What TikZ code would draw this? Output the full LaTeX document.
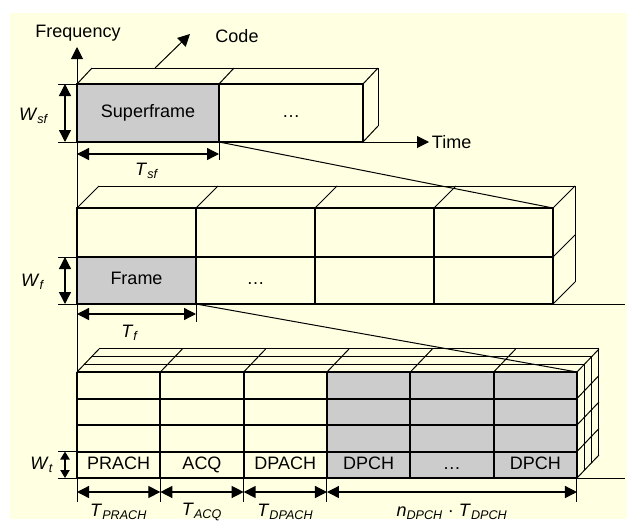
\documentclass[tikz,border=0pt]{standalone}
\usepackage{fontspec}
\setmainfont{Liberation Sans}
\usetikzlibrary{calc,arrows.meta}
\definecolor{bgyellow}{RGB}{255,255,225}
\definecolor{cellgray}{RGB}{204,204,204}
\newcommand{\lbl}[2]{\textit{#1}\textsubscript{\textit{#2}}}

\begin{document}
\begin{tikzpicture}[x=0.75pt,y=-0.75pt,
    font=\fontsize{13.5}{16}\selectfont,
    >={Triangle[length=9pt,width=9pt]},
    front/.style={line width=1.5pt},
    back/.style={line width=0.75pt},
    cell/.style={text height=9.5pt,text depth=2.8pt},
    dim/.style={line width=1pt,<->},
    smalldim/.style={line width=1pt,{Triangle[length=6pt,width=7pt]}-{Triangle[length=6pt,width=7pt]}}]
  \fill[bgyellow] (10,13) rectangle (627,519);
  \useasboundingbox (0,0) rectangle (627,521);

  %% helper columns and rows for the dimension lines
  \coordinate (tickx) at (58,0);
  \coordinate (wx)    at (65,0);

  %% Superframe level
  \foreach \i/\x in {0/77,1/219,2/363}
  {
    \coordinate (SFT\i) at (\x,84);
    \coordinate (SFB\i) at (\x,142);
  }
  \fill[cellgray] (SFT0) rectangle (SFB1);
  \draw[front] (SFT0) rectangle (SFB2);
  \draw[front] (SFT1) -- (SFB1);
  \foreach \i in {0,1,2}
    \draw[back] (SFT\i) -- ++(15,-16) coordinate (SFK\i);
  \draw[back] (SFK0) -- (SFK2) -- ++(0,58) coordinate (SFKB);
  \draw[back] (SFB2) -- (SFKB);
  \node[cell] (superframe) at ($(SFT0)!0.5!(SFB1)$) {Superframe};
  \node[cell] (sfdots) at ($(SFT1)!0.5!(SFB2)$) {\ldots};

  %% Axes
  \coordinate (origin) at (77,502);
  \coordinate (ftip) at (77,47);
  \draw[back,->] (origin) -- (ftip);
  \node (freq) at (78,33) {Frequency};
  \coordinate (cbase) at (155,68);
  \coordinate (ctip) at (190,34);
  \draw[back,->] (cbase) -- (ctip);
  \node (code) at (237,36) {Code};
  \coordinate (ttip) at (429,142);
  \draw[back,->] (SFB2) -- (ttip);
  \node[anchor=west,inner sep=2pt] (time) at (ttip) {Time};

  %% W_sf and T_sf
  \draw[back] (tickx |- SFT0) -- (SFT0);
  \draw[back] (tickx |- SFB0) -- (SFB0);
  \draw[dim] (wx |- SFT0) -- (wx |- SFB0);
  \node (wsf) at (34,116) {\lbl{W}{sf}};
  \coordinate (tsfy) at (0,154);
  \coordinate (tsfend) at (0,160);
  \draw[back] (SFB1) -- (SFB1 |- tsfend);
  \draw[dim] (SFB0 |- tsfy) -- (SFB1 |- tsfy);
  \node (tsf) at (147,171) {\lbl{T}{sf}};

  %% Frame level
  \foreach \i in {0,...,4}
  {
    \coordinate (FT\i) at (77+119*\i,208);
    \coordinate (FM\i) at (77+119*\i,257);
    \coordinate (FB\i) at (77+119*\i,304);
  }
  \fill[cellgray] (FM0) rectangle (FB1);
  \draw[front] (FT0) rectangle (FB4);
  \draw[front] (FM0) -- (FM4);
  \foreach \i in {1,2,3}
    \draw[front] (FT\i) -- (FB\i);
  \foreach \i in {0,...,4}
    \draw[back] (FT\i) -- ++(22,-22) coordinate (FK\i);
  \draw[back] (FK0) -- (FK4) -- ++(0,96) coordinate (FKB);
  \draw[back] (FM4) -- ++(22,-22);
  \draw[back] (FB4) -- (FKB);
  \coordinate (fend) at (625,304);
  \draw[back] (FB4) -- (fend);
  \node[cell] (frame) at ($(FM0)!0.5!(FB1)$) {Frame};
  \node[cell] (fdots) at ($(FM1)!0.5!(FB2)$) {\ldots};
  \draw[back] (SFB1) -- (FT4);

  %% W_f and T_f
  \draw[back] (tickx |- FM0) -- (FM0);
  \draw[back] (tickx |- FB0) -- (FB0);
  \draw[dim] (wx |- FM0) -- (wx |- FB0);
  \node (wf) at (33,282) {\lbl{W}{f}};
  \coordinate (tfy) at (0,314);
  \coordinate (tfend) at (0,322);
  \draw[back] (FB1) -- (FB1 |- tfend);
  \draw[dim] (FB0 |- tfy) -- (FB1 |- tfy);
  \node (tf) at (130,333) {\lbl{T}{f}};

  %% Slot level
  \foreach \i in {0,...,6}
    \foreach \j in {0,...,4}
      \coordinate (P\i-\j) at (77+83.33*\i,372+26.5*\j);
  \fill[cellgray] (P3-0) rectangle (P6-4);
  \foreach \j in {0,...,4}
    \draw[front] (P0-\j) -- (P6-\j);
  \foreach \i in {0,...,6}
    \draw[front] (P\i-0) -- (P\i-4);
  \foreach \k in {1,2,3}
  {
    \draw[back] ($(P0-0)+(7.33*\k,-7.67*\k)$) -- ($(P6-0)+(7.33*\k,-7.67*\k)$)
      -- ($(P6-4)+(7.33*\k,-7.67*\k)$);
  }
  \foreach \i in {0,...,6}
    \draw[back] (P\i-0) -- ++(22,-23);
  \foreach \j in {1,...,4}
    \draw[back] (P6-\j) -- ++(22,-23);
  \coordinate (pend) at (625,478);
  \draw[back] (P6-4) -- (pend);
  \draw[back] (FB1) -- (P6-0);
  \foreach \i/\n/\t in {0/1/PRACH,1/2/ACQ,2/3/DPACH,3/4/DPCH,4/5/\ldots,5/6/DPCH}
    \node[cell] (ch\i) at ($(P\i-3)!0.5!(P\n-4)$) {\t};

  %% W_t and slot durations
  \draw[back] (tickx |- P0-3) -- (P0-3);
  \draw[back] (tickx |- P0-4) -- (P0-4);
  \draw[smalldim] (wx |- P0-3) -- (wx |- P0-4);
  \node (wt) at (42,465) {\lbl{W}{t}};
  \coordinate (ty) at (0,492);
  \coordinate (tyend) at (0,502);
  \coordinate (ly) at (0,512);
  \foreach \i in {1,2,3,6}
    \draw[back] (P\i-4) -- (P\i-4 |- tyend);
  \foreach \a/\b/\t in {0/1/{\lbl{T}{PRACH}},1/2/{\lbl{T}{ACQ}},2/3/{\lbl{T}{DPACH}},
      3/6/{\lbl{n}{DPCH} \textperiodcentered{} \lbl{T}{DPCH}}}
  {
    \draw[dim] (P\a-4 |- ty) -- (P\b-4 |- ty);
    \node (dur\a) at ($(P\a-4 |- ly)!0.5!(P\b-4 |- ly)$) {\t};
  }
\end{tikzpicture}
\end{document}
